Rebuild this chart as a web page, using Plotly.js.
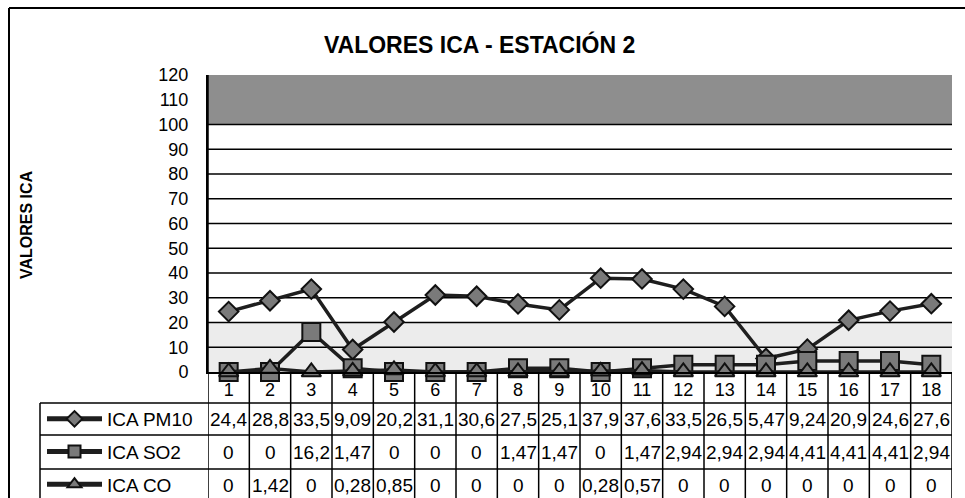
<!DOCTYPE html>
<html>
<head>
<meta charset="utf-8">
<script src="https://cdn.plot.ly/plotly-3.0.1.min.js"></script>
<style>
html,body{margin:0;padding:0;background:#fff;}
#chart{width:965px;height:498px;}
</style>
</head>
<body>
<div id="chart"></div>
<script>
// ---- Data ----
var categories = ['1','2','3','4','5','6','7','8','9','10','11','12','13','14','15','16','17','18'];
var seriesNames = ['ICA PM10', 'ICA SO2', 'ICA CO'];
var icaPM10 = [24.4, 28.8, 33.5, 9.09, 20.2, 31.1, 30.6, 27.5, 25.1, 37.9, 37.6, 33.5, 26.5, 5.47, 9.24, 20.9, 24.6, 27.6];
var icaSO2  = [0, 0, 16.2, 1.47, 0, 0, 0, 1.47, 1.47, 0, 1.47, 2.94, 2.94, 2.94, 4.41, 4.41, 4.41, 2.94];
var icaCO   = [0, 1.42, 0, 0.28, 0.85, 0, 0, 0, 0, 0.28, 0.57, 0, 0, 0, 0, 0, 0, 0];
var yTicks = [0, 10, 20, 30, 40, 50, 60, 70, 80, 90, 100, 110, 120];

// ---- Geometry helpers (pixels -> paper) ----
var W = 965, H = 498;
var mL = 208, mR = 13, mT = 75, mB = 126;
var pw = W - mL - mR, ph = H - mT - mB;
function px(X){ return (X - mL) / pw; }
function py(Y){ return (H - mB - Y) / ph; }

var seriesVals = [icaPM10, icaSO2, icaCO];
var symbols = ['diamond', 'square', 'triangle-up'];
var msizes = [15, 18, 17];
var traces = seriesVals.map(function(v, i){
  return {
    type: 'scatter', mode: 'lines+markers', name: seriesNames[i],
    x: categories, y: v,
    line: {color: '#1e1e1e', width: 3.5},
    marker: {symbol: symbols[i], size: msizes[i], color: '#7a7a7a', line: {color: '#111', width: 2}},
    legendgroup: 'g' + i,
    cliponaxis: false
  };
});

var shapes = [];
shapes.push({type:'rect', xref:'paper', yref:'y', x0:0, x1:1, y0:100, y1:120, fillcolor:'#8e8e8e', line:{width:0}, layer:'below'});
shapes.push({type:'rect', xref:'paper', yref:'y', x0:0, x1:1, y0:0, y1:20, fillcolor:'#ececec', line:{width:0}, layer:'below'});
yTicks.forEach(function(t){
  if (t > 0 && t <= 100) shapes.push({type:'line', xref:'paper', yref:'y', x0:0, x1:1, y0:t, y1:t, line:{color:'#000', width:1.6}, layer:'below'});
});
var nCat = categories.length;
for (var k = 0; k <= nCat; k++) {
  var yStart = (k === 0) ? 1 : 0;
  shapes.push({type:'line', xref:'x', yref:'paper', x0:k-0.5, x1:k-0.5, y0:yStart, y1:py(H+5), line:{color:'#000', width:1.5}});
}
var rowLines = [403, 435, 469];
rowLines.forEach(function(Y){
  shapes.push({type:'line', xref:'paper', yref:'paper', x0:px(40), x1:1, y0:py(Y), y1:py(Y), line:{color:'#000', width:1.5}});
});
shapes.push({type:'line', xref:'paper', yref:'paper', x0:px(40), x1:px(40), y0:py(403), y1:py(H+5), line:{color:'#000', width:1.5}});
shapes.push({type:'line', xref:'paper', yref:'paper', x0:px(9), x1:px(W+5), y0:py(8), y1:py(8), line:{color:'#000', width:2}});
shapes.push({type:'line', xref:'paper', yref:'paper', x0:px(9), x1:px(9), y0:py(8), y1:py(H+5), line:{color:'#000', width:2}});

var annotations = [];
var rowCenters = [419, 452, 485];
function fmtNum(v){ return String(v).replace('.', ','); }
seriesVals.forEach(function(v, r){
  v.forEach(function(val, c){
    annotations.push({xref:'x', yref:'paper', x:c, y:py(rowCenters[r]), text:fmtNum(val), showarrow:false,
      xanchor:'center', yanchor:'middle', font:{family:'Liberation Sans, Arial', size:19, color:'#000'}});
  });
});
annotations.push({xref:'paper', yref:'paper', x:px(27), y:py(225), text:'<b>VALORES ICA</b>', showarrow:false, textangle:-90,
  xanchor:'center', yanchor:'middle', font:{family:'Liberation Sans, Arial', size:16, color:'#000'}});

var layout = {
  width: W, height: H,
  margin: {l:mL, r:mR, t:mT, b:mB, pad:0, autoexpand:false},
  paper_bgcolor:'#fff', plot_bgcolor:'#fff',
  title: {text:'<b>VALORES ICA - ESTACIÓN 2</b>', x:0.497, xanchor:'center', y:1-45/H, yanchor:'middle',
    font:{family:'Liberation Sans, Arial', size:23, color:'#000'}},
  xaxis: {type:'category', range:[-0.5, nCat-0.5], showgrid:false, zeroline:false, showline:true, linecolor:'#000', linewidth:2,
    ticks:'', tickfont:{family:'Liberation Sans, Arial', size:18, color:'#000'}, fixedrange:true},
  yaxis: {range:[0,120], tickvals:yTicks, showgrid:false, zeroline:false, showline:true, linecolor:'#000', linewidth:2,
    ticks:'outside', ticklen:14, tickcolor:'rgba(0,0,0,0)', tickfont:{family:'Liberation Sans, Arial', size:18, color:'#000'}, fixedrange:true},
  showlegend: true,
  legend: {x:px(42), y:py(400), xanchor:'left', yanchor:'top', traceorder:'grouped', tracegroupgap:5,
    itemwidth:55, itemsizing:'constant', bgcolor:'rgba(0,0,0,0)', font:{family:'Liberation Sans, Arial', size:19, color:'#000'}},
  shapes: shapes,
  annotations: annotations
};

Plotly.newPlot('chart', traces, layout, {displayModeBar:false, staticPlot:true});
</script>
</body>
</html>
